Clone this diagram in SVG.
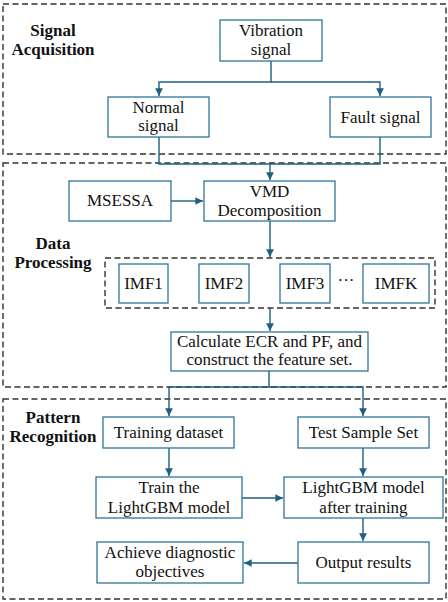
<svg xmlns="http://www.w3.org/2000/svg" width="448" height="602" viewBox="0 0 448 602">
<style>
.bg{fill:#fff}
.sec{fill:none;stroke:#333;stroke-width:1.4;stroke-dasharray:6 3.5}
.box{fill:#fff;stroke:#2f7597;stroke-width:1.3}
.t{font-family:"Liberation Serif","DejaVu Serif",serif;font-size:17px;fill:#111;text-anchor:middle}
.lb{font-family:"Liberation Serif","DejaVu Serif",serif;font-size:17px;font-weight:bold;fill:#111;text-anchor:middle}
.c{fill:none;stroke:#1f5f80;stroke-width:1.4}
</style>
<defs>
<marker id="ah" viewBox="0 0 10 10" refX="10" refY="5" markerWidth="5.5" markerHeight="5.5" orient="auto" markerUnits="strokeWidth">
<path d="M0,0 L10,5 L0,10 z" fill="#1f5f80"/>
</marker>
</defs>
<rect class="bg" x="0" y="0" width="448" height="602"/>
<g id="sections">
<rect class="sec" x="3" y="4" width="443" height="150"/>
<rect class="sec" x="3" y="163" width="443" height="224"/>
<rect class="sec" x="3" y="399" width="443" height="200"/>
<rect class="sec" x="105" y="258" width="330" height="50"/>
<text class="lb" x="53" y="36">Signal</text>
<text class="lb" x="53" y="55">Acquisition</text>
<text class="lb" x="53" y="249">Data</text>
<text class="lb" x="53" y="268">Processing</text>
<text class="lb" x="53" y="423">Pattern</text>
<text class="lb" x="53" y="442">Recognition</text>
</g>
<g id="connectors">
<path class="c" d="M271,61 V82 H159 V96" marker-end="url(#ah)"/>
<path class="c" d="M271,82 H380 V96" marker-end="url(#ah)"/>
<path class="c" d="M159,137 V164 H380 V137"/>
<path class="c" d="M270,164 V180" marker-end="url(#ah)"/>
<path class="c" d="M171,201 H203" marker-end="url(#ah)"/>
<path class="c" d="M270,221 V257" marker-end="url(#ah)"/>
<path class="c" d="M270,308 V331" marker-end="url(#ah)"/>
<path class="c" d="M269,371 V387 H169 V416" marker-end="url(#ah)"/>
<path class="c" d="M269,387 H363 V416" marker-end="url(#ah)"/>
<path class="c" d="M169,448 V476" marker-end="url(#ah)"/>
<path class="c" d="M363,448 V476" marker-end="url(#ah)"/>
<path class="c" d="M242,498 H283" marker-end="url(#ah)"/>
<path class="c" d="M363,518 V541" marker-end="url(#ah)"/>
<path class="c" d="M298,563 H244" marker-end="url(#ah)"/>
</g>
<g id="vibration"><rect class="box" x="220" y="20" width="102" height="41"/><text class="t" x="271" y="36">Vibration</text><text class="t" x="271" y="55">signal</text></g>
<g id="normal"><rect class="box" x="108" y="97" width="101" height="40"/><text class="t" x="158.5" y="113">Normal</text><text class="t" x="158.5" y="131">signal</text></g>
<g id="fault"><rect class="box" x="330" y="97" width="101" height="40"/><text class="t" x="380.5" y="123">Fault signal</text></g>
<g id="msessa"><rect class="box" x="69" y="181" width="102" height="40"/><text class="t" x="120" y="206">MSESSA</text></g>
<g id="vmd"><rect class="box" x="204" y="181" width="131" height="40"/><text class="t" x="269.5" y="197">VMD</text><text class="t" x="269.5" y="216">Decomposition</text></g>
<g id="imf1"><rect class="box" x="119" y="264" width="49" height="39"/><text class="t" x="143.5" y="289">IMF1</text></g>
<g id="imf2"><rect class="box" x="199" y="264" width="50" height="39"/><text class="t" x="224" y="289">IMF2</text></g>
<g id="imf3"><rect class="box" x="280" y="264" width="50" height="39"/><text class="t" x="305" y="289">IMF3</text></g>
<g id="dots"><text class="t" x="346" y="286">···</text></g>
<g id="imfk"><rect class="box" x="363" y="264" width="66" height="39"/><text class="t" x="396" y="289">IMFK</text></g>
<g id="calc"><rect class="box" x="171" y="332" width="197" height="39"/><text class="t" x="269.5" y="347">Calculate ECR and PF, and</text><text class="t" x="269.5" y="365">construct the feature set.</text></g>
<g id="training"><rect class="box" x="103" y="417" width="131" height="31"/><text class="t" x="168.5" y="438">Training dataset</text></g>
<g id="test"><rect class="box" x="298" y="417" width="131" height="31"/><text class="t" x="363.5" y="438">Test Sample Set</text></g>
<g id="train"><rect class="box" x="96" y="477" width="146" height="41"/><text class="t" x="169" y="493">Train the</text><text class="t" x="169" y="513">LightGBM model</text></g>
<g id="after"><rect class="box" x="284" y="477" width="159" height="41"/><text class="t" x="363.5" y="493">LightGBM model</text><text class="t" x="363.5" y="513">after training</text></g>
<g id="output"><rect class="box" x="298" y="542" width="131" height="41"/><text class="t" x="363.5" y="568">Output results</text></g>
<g id="achieve"><rect class="box" x="97" y="542" width="146" height="41"/><text class="t" x="170" y="558">Achieve diagnostic</text><text class="t" x="170" y="577">objectives</text></g>
</svg>
